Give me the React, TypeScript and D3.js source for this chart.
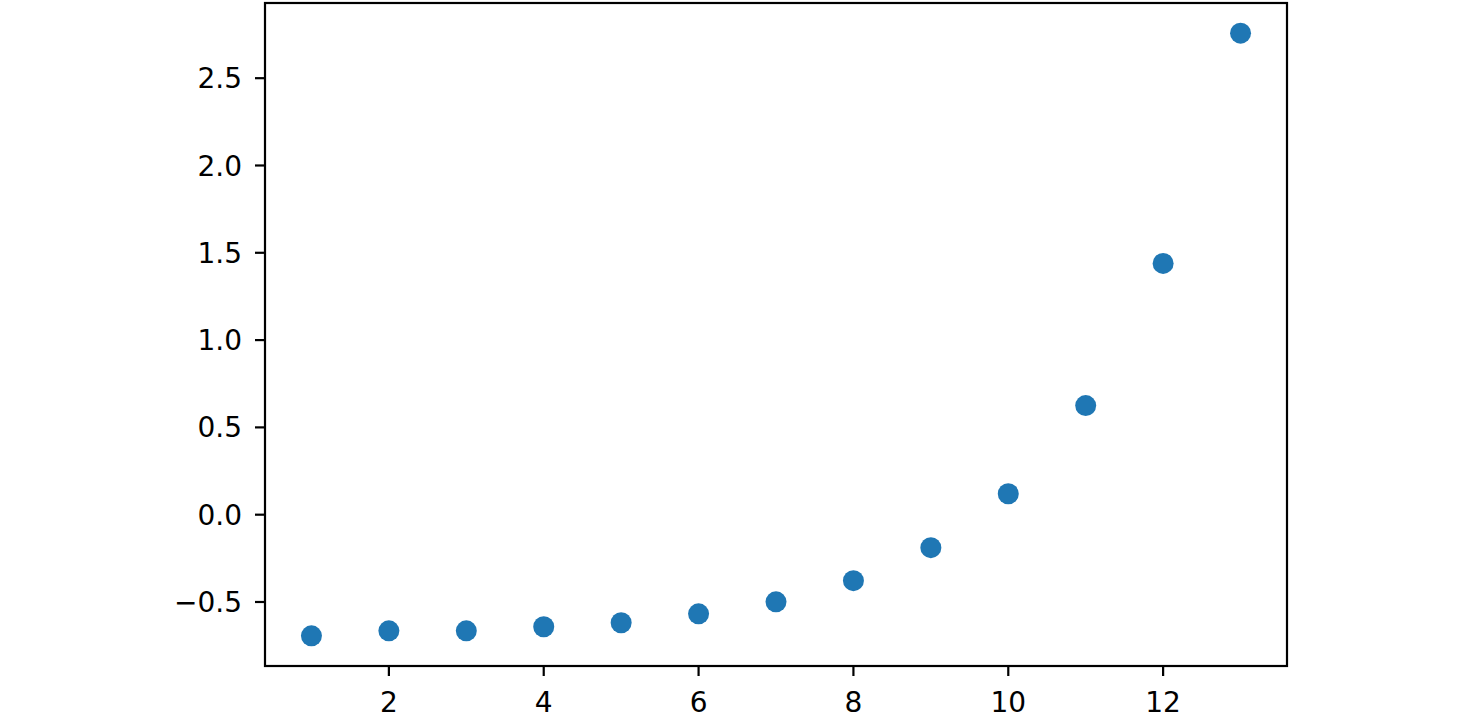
import React from "react";
import * as d3 from "d3";

const xValues = [1, 2, 3, 4, 5, 6, 7, 8, 9, 10, 11, 12, 13];
const yValues = [-0.694, -0.665, -0.665, -0.642, -0.619, -0.568, -0.499, -0.378, -0.189, 0.12, 0.625, 1.439, 2.758];
const xTicks = [2, 4, 6, 8, 10, 12];
const yTicks = [-0.5, 0.0, 0.5, 1.0, 1.5, 2.0, 2.5];

const W = 1461;
const H = 715;
const left = 265;
const right = 1287;
const top = 3;
const bottom = 666;

export default function App() {
  const xExt = d3.extent(xValues) as [number, number];
  const yExt = d3.extent(yValues) as [number, number];
  const xm = (xExt[1] - xExt[0]) * 0.05;
  const ym = (yExt[1] - yExt[0]) * 0.05;
  const x = d3.scaleLinear().domain([xExt[0] - xm, xExt[1] + xm]).range([left, right]);
  const y = d3.scaleLinear().domain([yExt[0] - ym, yExt[1] + ym]).range([bottom, top]);
  const fmt = (v: number) => {
    const s = d3.format(".1f")(v);
    return s.replace("-", "\u2212");
  };
  const font = "'DejaVu Sans', sans-serif";
  return (
    <svg width={W} height={H} style={{ position: "absolute", left: 0, top: 0 }}>
      <rect x={0} y={0} width={W} height={H} fill="#fff" />
      {xValues.map((xv, i) => (
        <circle key={i} cx={x(xv)} cy={y(yValues[i])} r={10.5} fill="#1f77b4" />
      ))}
      <rect x={left} y={top} width={right - left} height={bottom - top} fill="none" stroke="#000" strokeWidth={2.2} />
      {xTicks.map((t) => (
        <g key={t}>
          <line x1={x(t)} x2={x(t)} y1={bottom} y2={bottom + 10} stroke="#000" strokeWidth={2.2} />
          <text x={x(t)} y={bottom + 46} textAnchor="middle" fontFamily={font} fontSize={28} fill="#000">
            {t}
          </text>
        </g>
      ))}
      {yTicks.map((t) => (
        <g key={t}>
          <line x1={left - 10} x2={left} y1={y(t)} y2={y(t)} stroke="#000" strokeWidth={2.2} />
          <text x={left - 23} y={y(t)} dy="0.36em" textAnchor="end" fontFamily={font} fontSize={28} fill="#000">
            {fmt(t)}
          </text>
        </g>
      ))}
    </svg>
  );
}
